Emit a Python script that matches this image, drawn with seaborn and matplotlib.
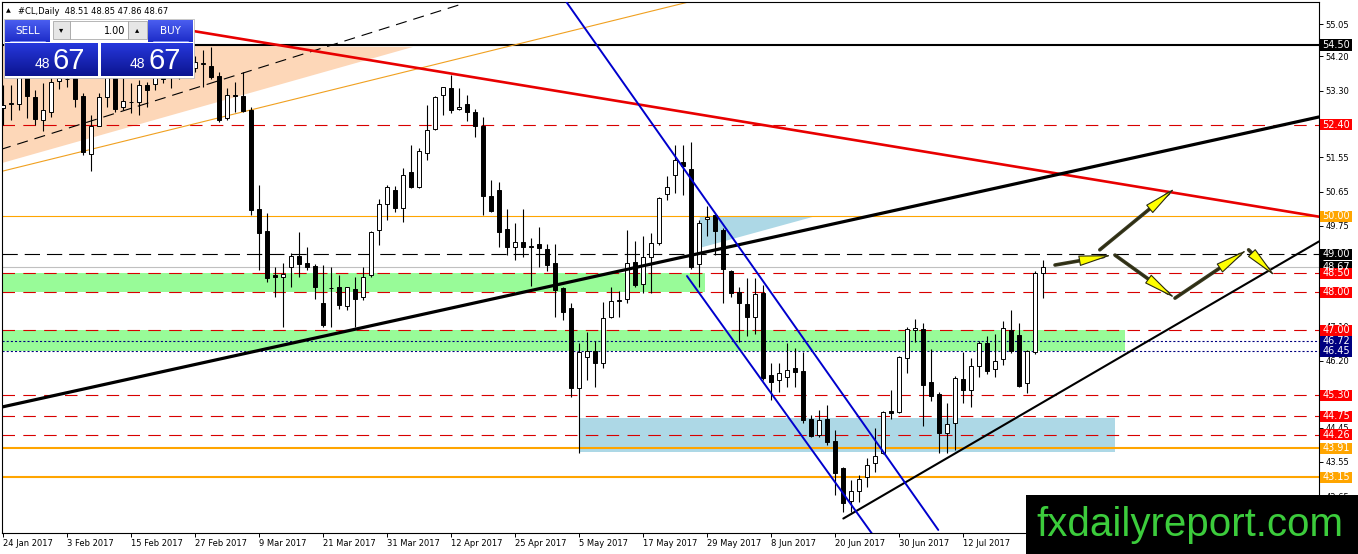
import numpy as np
import pandas as pd
import matplotlib
matplotlib.use("Agg")
import matplotlib.pyplot as plt
import seaborn as sns
from matplotlib.patches import Rectangle, Polygon
from matplotlib.transforms import blended_transform_factory
from matplotlib.colors import LinearSegmentedColormap

# ------------------------------------------------------------------ data
opens = [52.85, 52.95, 52.95, 53.67, 53.13, 52.53, 52.74, 53.56, 53.62, 53.64,
         53.15, 51.63, 52.38, 53.13, 53.67, 52.88, 52.99, 53.00, 53.45, 53.47,
         53.64, 53.70, 53.80, 54.00, 53.90, 54.01, 53.95, 53.69, 52.58, 53.18,
         53.17, 52.78, 50.19, 49.62, 48.46, 48.41, 48.68, 48.96, 48.77, 48.70,
         47.72, 48.12, 48.13, 47.65, 48.10, 47.87, 48.46, 49.64, 50.32, 50.69,
         50.21, 51.17, 50.77, 51.66, 52.29, 53.19, 53.37, 52.82, 52.95, 52.74,
         52.36, 50.54, 50.69, 49.66, 49.20, 49.33, 49.20, 49.27, 49.14, 48.77,
         48.11, 47.58, 45.48, 46.31, 46.46, 46.15, 47.36, 47.78, 47.84, 48.79,
         48.22, 48.92, 49.29, 50.58, 51.09, 51.43, 51.24, 48.74, 49.92, 50.04,
         49.64, 48.57, 48.02, 47.70, 47.36, 47.98, 45.83, 45.70, 45.79, 46.02,
         45.94, 44.67, 44.25, 44.67, 44.10, 43.38, 42.53, 42.79, 43.16, 43.51,
         43.77, 44.88, 44.87, 46.27, 47.00, 47.03, 45.65, 45.33, 44.31, 44.56,
         45.72, 45.44, 46.07, 46.66, 45.98, 46.24, 47.00, 46.88, 45.61, 46.44,
         48.51]
highs = [53.45, 53.45, 53.80, 53.80, 53.32, 53.51, 53.67, 53.72, 53.75, 53.74,
         53.24, 52.66, 53.24, 53.72, 53.80, 53.64, 53.50, 53.59, 53.54, 53.72,
         53.75, 53.95, 54.20, 54.30, 54.20, 54.37, 54.45, 53.78, 53.38, 53.54,
         53.80, 52.88, 50.83, 50.09, 48.68, 48.77, 49.03, 49.60, 49.20, 48.75,
         48.72, 48.68, 48.46, 48.15, 48.41, 48.68, 49.62, 50.45, 50.83, 50.80,
         51.26, 51.88, 51.79, 52.93, 53.17, 53.41, 53.72, 53.37, 53.19, 52.82,
         52.61, 50.96, 50.91, 50.19, 49.82, 50.19, 49.42, 49.73, 49.27, 49.27,
         48.15, 47.72, 46.66, 46.97, 46.73, 47.76, 48.15, 48.05, 49.64, 49.35,
         49.47, 49.57, 50.52, 51.06, 51.88, 51.88, 51.96, 49.90, 50.26, 50.08,
         49.68, 48.59, 48.15, 48.37, 48.37, 48.20, 46.14, 46.14, 46.66, 46.53,
         46.44, 44.78, 44.91, 45.04, 44.38, 43.42, 43.07, 43.20, 43.64, 44.43,
         44.88, 45.44, 46.33, 47.08, 47.31, 47.20, 46.51, 45.39, 45.09, 45.80,
         46.44, 46.27, 46.73, 46.85, 46.91, 47.26, 47.54, 47.20, 46.49, 48.55,
         48.85]
lows = [52.40, 52.53, 52.80, 52.59, 52.40, 52.25, 52.62, 53.35, 53.40, 52.88,
        51.61, 51.20, 52.36, 52.88, 52.75, 52.80, 52.72, 52.66, 52.88, 53.32,
        53.50, 53.37, 53.60, 53.70, 53.80, 53.41, 53.61, 52.49, 52.53, 52.75,
        52.75, 50.04, 48.59, 48.28, 47.89, 47.10, 48.15, 48.41, 48.59, 47.82,
        47.10, 47.10, 47.56, 47.54, 47.10, 47.80, 48.41, 49.25, 49.90, 50.10,
        49.86, 50.74, 50.74, 51.48, 52.27, 52.66, 52.71, 52.80, 52.51, 52.08,
        50.04, 50.12, 49.19, 48.99, 48.85, 48.94, 48.17, 48.68, 48.55, 47.35,
        47.28, 45.26, 43.78, 45.70, 45.51, 46.01, 47.32, 47.36, 47.72, 48.15,
        47.99, 47.98, 49.25, 50.43, 50.61, 50.56, 48.62, 48.15, 49.49, 48.99,
        47.72, 47.89, 46.71, 46.85, 46.91, 45.70, 45.17, 45.39, 45.52, 45.52,
        44.56, 44.21, 44.21, 43.99, 42.68, 42.24, 42.23, 42.50, 42.89, 43.29,
        43.75, 44.67, 44.84, 45.89, 46.71, 44.49, 45.15, 43.79, 43.77, 43.86,
        45.09, 44.98, 45.77, 45.87, 45.79, 46.09, 46.42, 45.52, 45.37, 46.38,
        47.86]
closes = [52.93, 52.97, 53.67, 53.15, 52.55, 52.80, 53.54, 53.64, 53.60, 53.09,
          51.70, 52.36, 53.13, 53.67, 52.82, 53.03, 53.00, 53.45, 53.32, 53.66,
          53.62, 53.80, 54.00, 53.90, 54.05, 54.03, 53.66, 52.53, 53.19, 53.17,
          52.77, 50.17, 49.57, 48.37, 48.41, 48.48, 48.96, 48.75, 48.68, 48.15,
          47.14, 48.11, 47.67, 48.13, 47.82, 48.41, 49.58, 50.32, 50.78, 50.21,
          51.09, 50.78, 51.72, 52.27, 53.13, 53.39, 52.78, 52.88, 52.73, 52.36,
          50.54, 50.15, 49.60, 49.19, 49.33, 49.19, 49.21, 49.16, 48.72, 48.06,
          47.49, 45.48, 46.44, 46.47, 46.15, 47.32, 47.78, 47.79, 48.77, 48.20,
          48.92, 49.31, 50.49, 50.77, 51.48, 51.33, 48.66, 49.82, 49.99, 49.62,
          48.61, 47.99, 47.72, 47.36, 47.96, 45.74, 45.65, 45.89, 45.96, 45.92,
          44.65, 44.23, 44.65, 44.08, 43.26, 42.47, 42.79, 43.11, 43.46, 43.70,
          44.87, 44.82, 46.31, 47.03, 47.06, 45.57, 45.29, 44.31, 44.54, 45.74,
          45.44, 46.07, 46.66, 45.94, 46.21, 47.06, 46.47, 45.54, 46.46, 48.52,
          48.67]

date_labels = ["24 Jan 2017", "3 Feb 2017", "15 Feb 2017", "27 Feb 2017",
               "9 Mar 2017", "21 Mar 2017", "31 Mar 2017", "12 Apr 2017",
               "25 Apr 2017", "5 May 2017", "17 May 2017", "29 May 2017",
               "8 Jun 2017", "20 Jun 2017", "30 Jun 2017", "12 Jul 2017"]
date_bars = [0, 8, 16, 24, 32, 40, 48, 56, 64, 72, 80, 88, 96, 104, 112, 120]

price_ticks = [42.65, 43.55, 44.45, 45.30, 46.20, 47.10, 47.95, 48.85,
               49.75, 50.65, 51.55, 52.40, 53.30, 54.20, 55.05]

level_black = 54.50
levels_red = [52.40, 48.50, 48.00, 47.00, 45.30, 44.75, 44.26]
level_orange_thin = 50.00
levels_orange_thick = [43.91, 43.15]
level_black_dash = 49.00
levels_navy = [46.72, 46.45]
level_bid = 48.67

# zones: (low price, high price, start bar, end bar)
green_zones = [(48.00, 48.50, -0.125, 87.75), (46.45, 47.00, -0.125, 140.25)]
blue_zone = (43.80, 44.70, 72.0, 139.0)
peach_tri_x = [-0.125, 51.25, -0.125]
peach_tri_y = [54.50, 54.45, 51.40]
blue_tri_x = [87.1, 101.5, 87.1]
blue_tri_y = [50.00, 50.00, 49.17]

red_trend_x, red_trend_y = [24.0, 164.5], [54.86, 49.99]
black_trend_x, black_trend_y = [-0.125, 164.5], [44.99, 52.61]
support_x, support_y = [105.04, 164.5], [42.06, 49.34]
blue_upper_x, blue_upper_y = [70.46, 116.91], [55.62, 41.76]
blue_lower_x, blue_lower_y = [85.5, 108.6], [48.43, 41.67]
dash_diag_x, dash_diag_y = [-0.375, 57.1], [51.75, 55.56]
orange_diag_x, orange_diag_y = [-0.375, 85.5], [51.17, 55.62]

arrow_starts = [(131.5, 48.72), (137.1, 49.12), (139.0, 48.98), (146.5, 47.85), (155.7, 49.12)]
arrow_ends = [(138.6, 48.98), (146.5, 50.74), (146.5, 47.85), (155.5, 49.12), (159.0, 48.43)]

# ------------------------------------------------------------------ style
sns.set_theme(style="white")
plt.rcParams['font.family'] = ['DejaVu Sans']
plt.rcParams['lines.scale_dashes'] = False

W, H = 1358, 554
fig = plt.figure(figsize=(W / 100, H / 100), dpi=100)
fig.patch.set_facecolor('white')
ax = fig.add_axes([2 / W, 21 / H, 1317 / W, 531 / H])
ax.set_facecolor('white')

RED = '#d80000'
ORANGE = '#ffa500'
NAVY = '#000080'

# zones
for lo, hi, x0, x1 in green_zones:
    ax.add_patch(Rectangle((x0, lo), x1 - x0, hi - lo, fc='#98fb98', ec='none', zorder=1))
lo, hi, x0, x1 = blue_zone
ax.add_patch(Rectangle((x0, lo), x1 - x0, hi - lo, fc='#add8e6', ec='none', zorder=1))
ax.add_patch(Polygon(list(zip(peach_tri_x, peach_tri_y)), closed=True, fc='#fdd7b8', ec='none', zorder=1))
ax.add_patch(Polygon(list(zip(blue_tri_x, blue_tri_y)), closed=True, fc='#add8e6', ec='none', zorder=1))

# horizontal levels
ax.axhline(level_black, color='black', lw=1.5, zorder=2)
for lv in levels_red:
    ax.axhline(lv, color=RED, lw=0.8, ls=(0, (9, 6)), zorder=2)
ax.axhline(level_orange_thin, color=ORANGE, lw=0.8, zorder=2)
for lv in levels_orange_thick:
    ax.axhline(lv, color=ORANGE, lw=1.5, zorder=2)
ax.axhline(level_black_dash, color='black', lw=0.8, ls=(0, (11, 5)), zorder=2)
for lv in levels_navy:
    ax.axhline(lv, color=NAVY, lw=0.8, ls=(0, (1.5, 1.5)), zorder=2)
ax.axhline(level_bid, color='#c0c0c0', lw=0.8, zorder=2)

# thin diagonals
ax.plot(dash_diag_x, dash_diag_y, color='black', lw=0.8, ls=(0, (8, 5)), zorder=2)
ax.plot(orange_diag_x, orange_diag_y, color='#f0a020', lw=0.8, zorder=2)

# candles
x = np.arange(len(opens))
o = np.array(opens); h = np.array(highs); l = np.array(lows); c = np.array(closes)
up = c >= o
bottom = np.minimum(o, c)
height = np.maximum(np.abs(c - o), 0.015)
ax.vlines(x, l, h, color='black', lw=0.8, zorder=3)
ax.bar(x[up], height[up], bottom=bottom[up], width=0.55, color='white',
       edgecolor='black', linewidth=0.7, zorder=4)
ax.bar(x[~up], height[~up], bottom=bottom[~up], width=0.55, color='black',
       edgecolor='black', linewidth=0.7, zorder=4)

# trend lines via seaborn
def seg(xs, ys, color, lw):
    df = pd.DataFrame({'bar': xs, 'price': ys})
    sns.lineplot(data=df, x='bar', y='price', ax=ax, color=color, linewidth=lw,
                 estimator=None, sort=False, legend=False, zorder=5)

seg(red_trend_x, red_trend_y, '#e80000', 1.9)
seg(black_trend_x, black_trend_y, 'black', 2.3)
seg(support_x, support_y, 'black', 1.5)
seg(blue_upper_x, blue_upper_y, '#0000cd', 1.4)
seg(blue_lower_x, blue_lower_y, '#0000cd', 1.4)

# arrows
for s, e in zip(arrow_starts, arrow_ends):
    ax.annotate('', xy=e, xytext=s,
                arrowprops=dict(arrowstyle='-', lw=2.6, color='#3a3a20',
                                shrinkA=0, shrinkB=6), zorder=6)
    ax.annotate('', xy=e, xytext=s,
                arrowprops=dict(arrowstyle='-|>,head_length=2.1,head_width=0.34',
                                lw=0.8, fc='#ffff00', ec='#2a2a10',
                                shrinkA=0, shrinkB=0, mutation_scale=10), zorder=7)

ax.set_xlim(-0.125, 164.5)
ax.set_ylim(41.68, 55.63)
ax.set_xlabel('')
ax.set_ylabel('')

# axes / ticks
for sp in ax.spines.values():
    sp.set_color('black')
    sp.set_linewidth(0.8)
ax.yaxis.tick_right()
ax.set_yticks(price_ticks)
# tick labels that sit fully under a coloured price box are left blank
covered = [52.40, 48.85, 47.95, 45.30]
ax.set_yticklabels(['' if v in covered else f'{v:.2f}' for v in price_ticks])
ax.set_xticks(date_bars)
ax.set_xticklabels(date_labels)
for lab in ax.get_xticklabels():
    lab.set_ha('left')
ax.tick_params(axis='y', direction='out', length=3, width=0.7, pad=1.5,
               labelsize=6, colors='black', right=True, left=False)
ax.tick_params(axis='x', direction='out', length=3, width=0.7, pad=1.5,
               labelsize=6, colors='black', bottom=True)
ax.grid(False)

# right price labels
trans = blended_transform_factory(ax.transAxes, ax.transData)
box_w = 32 / 1317
bx0 = 1 + 1 / 1317
labels = [(level_bid, 'black'), (level_black, 'black'), (levels_red[0], '#ff0000'),
          (level_orange_thin, ORANGE), (level_black_dash, 'black')]
labels += [(lv, '#ff0000') for lv in levels_red[1:]]
labels += [(lv, NAVY) for lv in levels_navy]
labels += [(lv, ORANGE) for lv in levels_orange_thick]
for price, col in labels:
    ax.add_patch(Rectangle((bx0, price - 0.145), box_w, 0.29, transform=trans,
                           fc=col, ec='none', clip_on=False, zorder=10))
    ax.text(bx0 + box_w / 2, price, f'{price:.2f}', transform=trans, ha='center',
            va='center', color='white', fontsize=7, zorder=11, clip_on=False)

# ------------------------------------------------------------------ overlay (pixel coords)
ov = fig.add_axes([0, 0, 1, 1])
ov.set_zorder(5)
ov.patch.set_visible(False)
ov.axis('off')


def grad_box(x0, y0, x1, y1, ctop, cbot):
    cmap = LinearSegmentedColormap.from_list('g', [ctop, cbot])
    ov.imshow(np.linspace(0, 1, 64).reshape(-1, 1), extent=(x0, x1, y1, y0),
              cmap=cmap, aspect='auto', interpolation='bilinear', zorder=2)


ov.text(6, 11, '\u25b2', fontsize=4.5, va='center', ha='left', color='black')
ov.text(18, 11, f'#CL,Daily  {opens[-1]:.2f} {highs[-1]:.2f} {lows[-1]:.2f} {closes[-1]:.2f}',
        fontsize=6, va='center', ha='left', color='black')

ov.add_patch(Rectangle((4, 19), 190, 59, fc='white', ec='#b0b0b0', lw=0.5, zorder=1))
grad_box(5, 20, 50, 42, '#4a5ef0', '#1d2cc8')
grad_box(148, 20, 193, 42, '#4a5ef0', '#1d2cc8')
grad_box(5, 43, 98, 76, '#2638dc', '#0c1490')
grad_box(101, 43, 193, 76, '#2638dc', '#0c1490')
ov.add_patch(Rectangle((53, 21), 17, 18, fc='#e6e6e6', ec='#9a9a9a', lw=0.5, zorder=3))
ov.add_patch(Rectangle((70, 21), 58, 18, fc='white', ec='#9a9a9a', lw=0.5, zorder=3))
ov.add_patch(Rectangle((128, 21), 19, 18, fc='#e6e6e6', ec='#9a9a9a', lw=0.5, zorder=3))
ov.plot([10, 45], [40.5, 40.5], color='#8a9aff', lw=0.6, zorder=4)
ov.plot([153, 188], [40.5, 40.5], color='#8a9aff', lw=0.6, zorder=4)
ov.text(27.5, 31, 'SELL', color='white', fontsize=7.5, ha='center', va='center', zorder=5)
ov.text(170.5, 31, 'BUY', color='white', fontsize=7.5, ha='center', va='center', zorder=5)
ov.text(61.5, 30, '\u25be', color='black', fontsize=6, ha='center', va='center', zorder=5)
ov.text(137.5, 30, '\u25b4', color='black', fontsize=6, ha='center', va='center', zorder=5)
ov.text(125, 30.5, '1.00', color='black', fontsize=7, ha='right', va='center', zorder=5)
big, small = f'{level_bid:.2f}'.split('.')
for xs, xb in [(50, 53), (145, 148)]:
    ov.text(xs, 68, big, color='white', fontsize=10, ha='right', va='baseline',
            family='Liberation Sans', zorder=5)
    ov.text(xb, 69, small, color='white', fontsize=21, ha='left', va='baseline',
            family='Liberation Sans', zorder=5)

# watermark
ov.add_patch(Rectangle((1026, 495), 332, 59, fc='black', ec='none', zorder=6))
ov.text(1190, 536, 'fxdailyreport.com', color='#3ccc3c', fontsize=29, ha='center',
        va='baseline', family='Liberation Sans', zorder=7)

ov.set_xlim(0, W)
ov.set_ylim(H, 0)

fig.savefig('out.png', dpi=100, facecolor='white')
